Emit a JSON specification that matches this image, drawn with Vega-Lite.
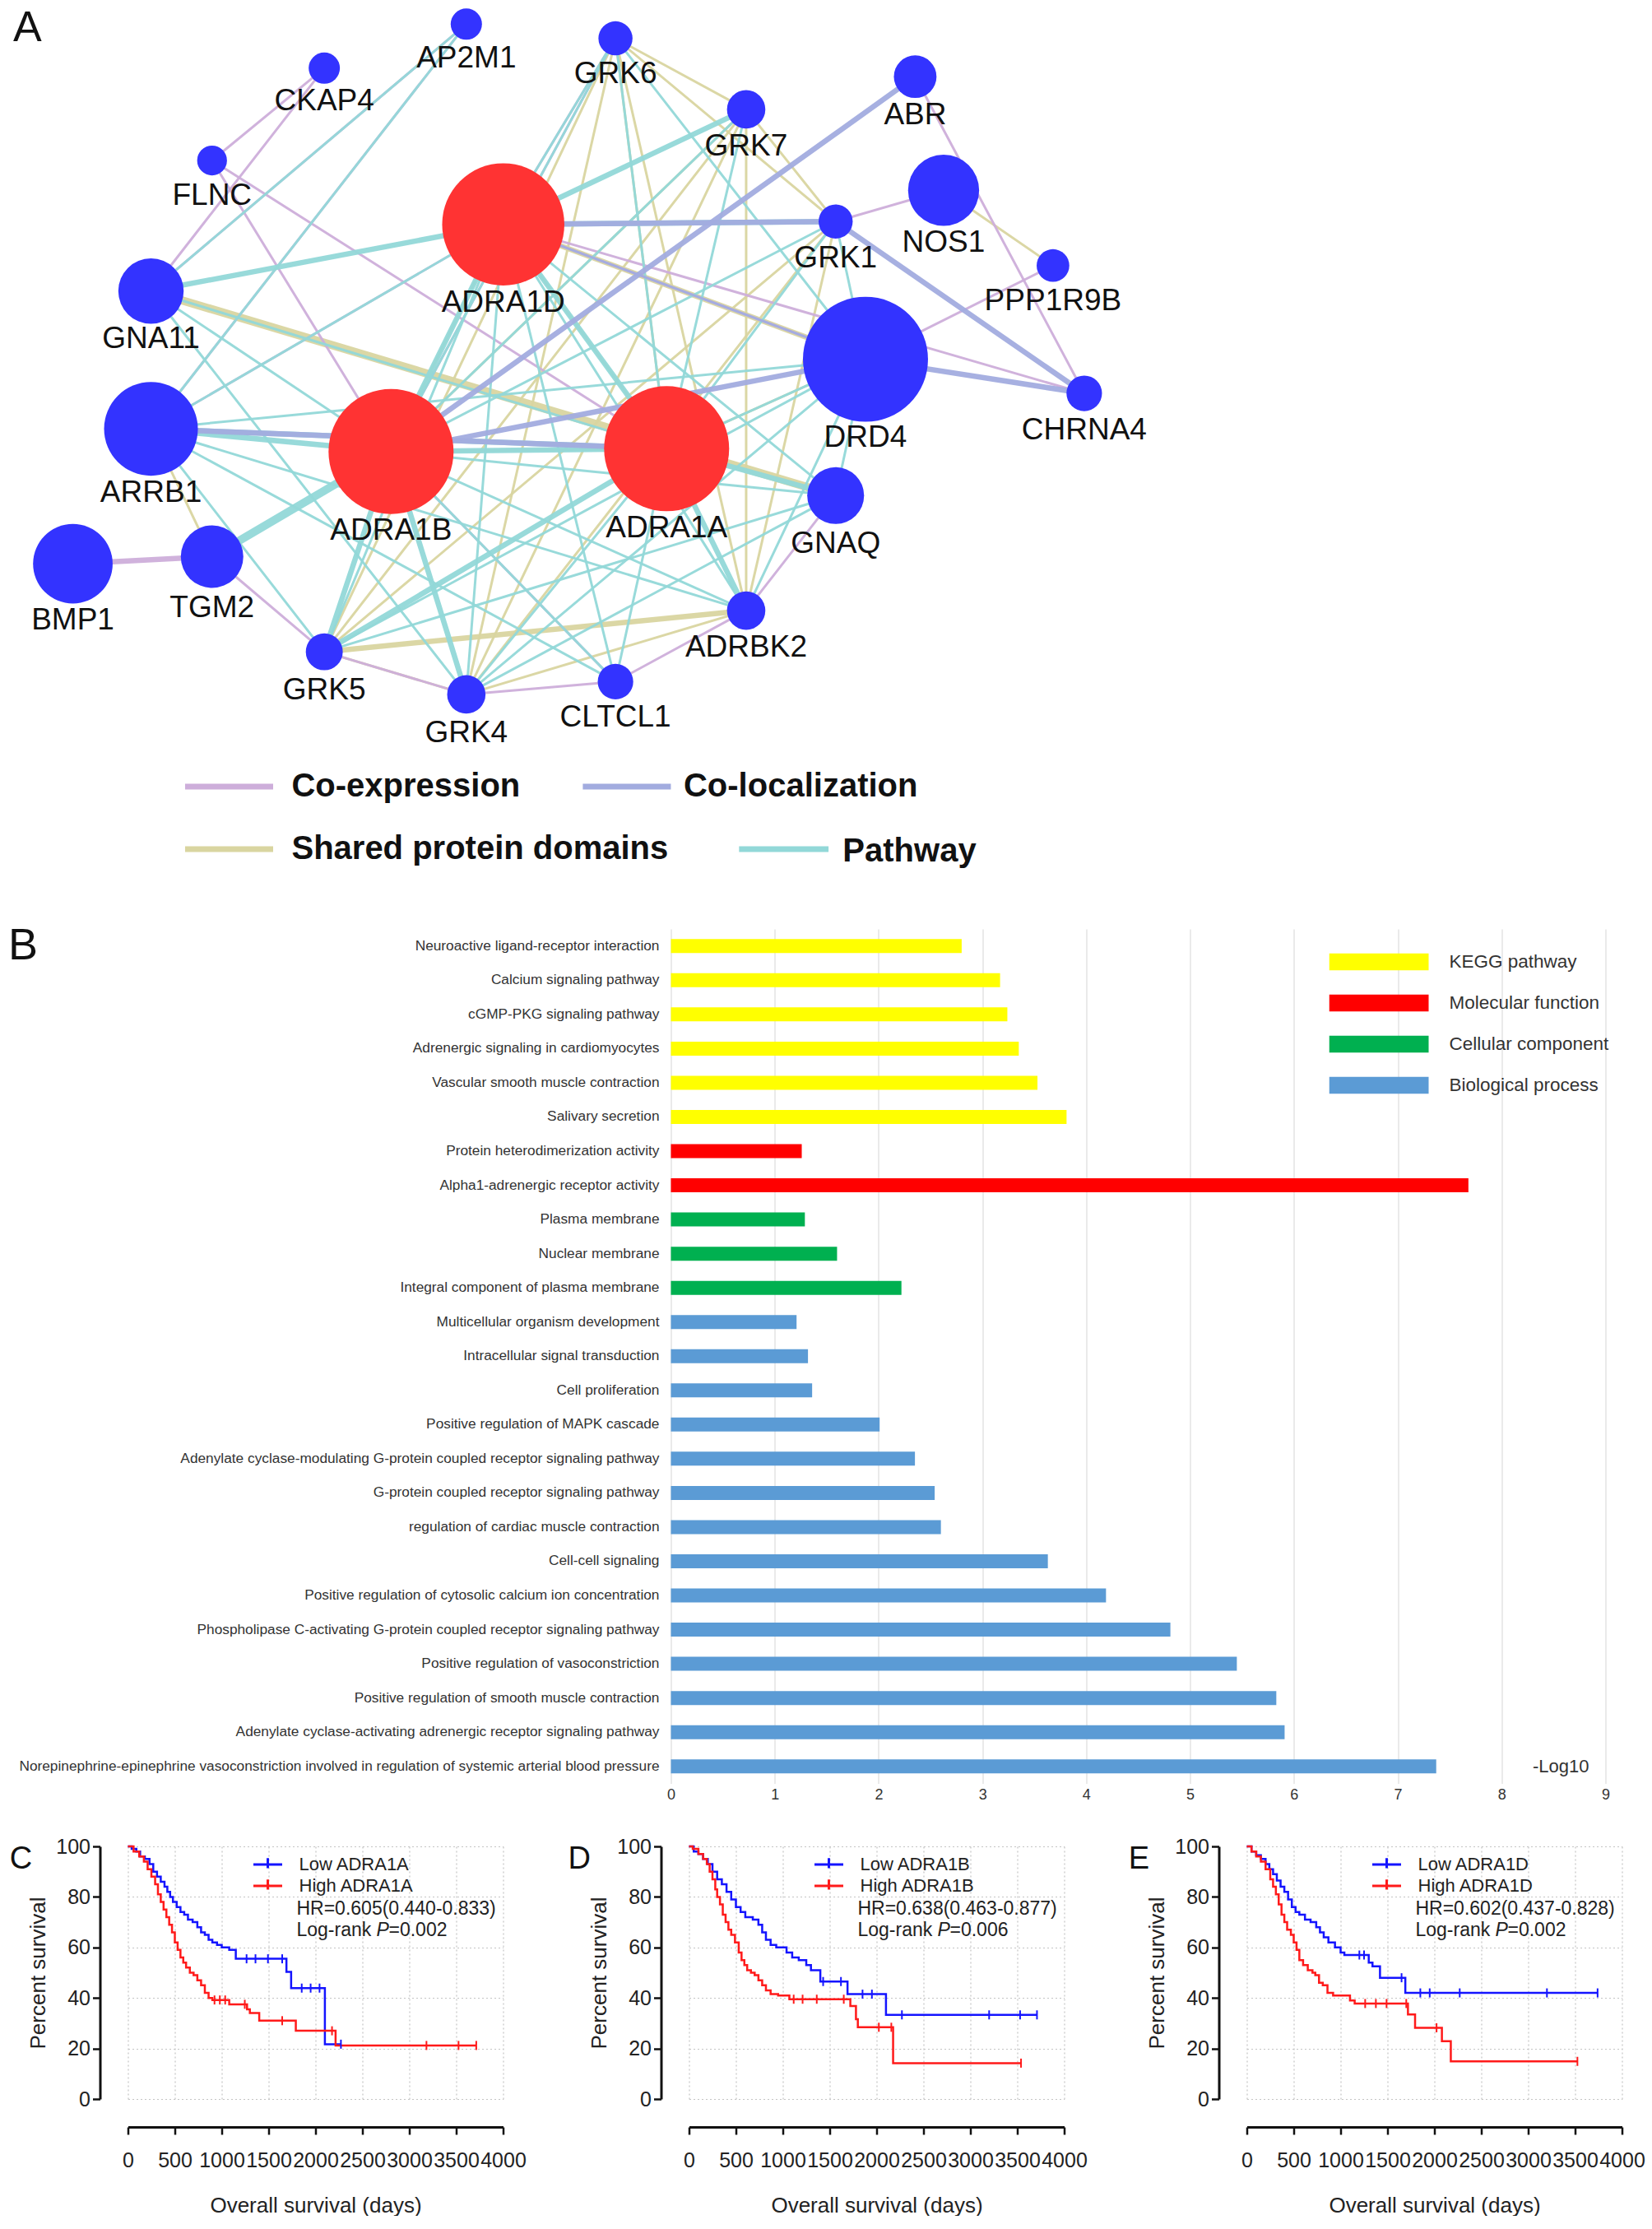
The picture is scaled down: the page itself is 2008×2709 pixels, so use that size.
{
"$schema":"https://vega.github.io/schema/vega-lite/v6.json",
"padding":{"left":9.5,"top":0,"right":0,"bottom":0},
"background":"white",
"config":{"view":{"stroke":null},"font":"Liberation Sans","axis":{"labelFont":"Liberation Sans","titleFont":"Liberation Sans"},"legend":{"labelFont":"Liberation Sans"},"text":{"font":"Liberation Sans"}},
"datasets":{
"nodes":[
{"id":"ADRA1A","x":469,"y":316,"d":88,"ly":372,"grp":"query"},
{"id":"ADRA1B","x":275,"y":318,"d":88,"ly":374,"grp":"query"},
{"id":"ADRA1D","x":354,"y":158,"d":86,"ly":213,"grp":"query"},
{"id":"DRD4","x":609,"y":253,"d":88,"ly":308,"grp":"related"},
{"id":"ARRB1","x":106,"y":302,"d":66,"ly":347,"grp":"related"},
{"id":"BMP1","x":51,"y":397,"d":56,"ly":437,"grp":"related"},
{"id":"GNA11","x":106,"y":205,"d":46,"ly":239,"grp":"related"},
{"id":"NOS1","x":664,"y":134,"d":50,"ly":171,"grp":"related"},
{"id":"TGM2","x":149,"y":392,"d":44,"ly":428,"grp":"related"},
{"id":"GNAQ","x":588,"y":349,"d":40,"ly":383,"grp":"related"},
{"id":"AP2M1","x":328,"y":17,"d":22,"ly":41,"grp":"related"},
{"id":"CKAP4","x":228,"y":48,"d":22,"ly":71,"grp":"related"},
{"id":"GRK6","x":433,"y":27,"d":24,"ly":52,"grp":"related"},
{"id":"FLNC","x":149,"y":113,"d":21,"ly":138,"grp":"related"},
{"id":"GRK7","x":525,"y":77,"d":27,"ly":103,"grp":"related"},
{"id":"ABR","x":644,"y":54,"d":30,"ly":81,"grp":"related"},
{"id":"GRK1","x":588,"y":156,"d":24,"ly":182,"grp":"related"},
{"id":"PPP1R9B","x":741,"y":187,"d":23,"ly":212,"grp":"related"},
{"id":"CHRNA4","x":763,"y":277,"d":25,"ly":303,"grp":"related"},
{"id":"ADRBK2","x":525,"y":430,"d":27,"ly":456,"grp":"related"},
{"id":"GRK5","x":228,"y":459,"d":26,"ly":486,"grp":"related"},
{"id":"CLTCL1","x":433,"y":480,"d":25,"ly":505,"grp":"related"},
{"id":"GRK4","x":328,"y":489,"d":27,"ly":516,"grp":"related"}
],
"edges":[
{"s":"GRK6","t":"GRK7","type":"Shared protein domains","w":1},
{"s":"GRK6","t":"GRK1","type":"Shared protein domains","w":1},
{"s":"GRK6","t":"GRK5","type":"Shared protein domains","w":1},
{"s":"GRK6","t":"GRK4","type":"Shared protein domains","w":1},
{"s":"GRK6","t":"ADRBK2","type":"Shared protein domains","w":1},
{"s":"GRK7","t":"GRK1","type":"Shared protein domains","w":1},
{"s":"GRK7","t":"GRK5","type":"Shared protein domains","w":1},
{"s":"GRK7","t":"GRK4","type":"Shared protein domains","w":1},
{"s":"GRK7","t":"ADRBK2","type":"Shared protein domains","w":1},
{"s":"GRK1","t":"GRK5","type":"Shared protein domains","w":1},
{"s":"GRK1","t":"GRK4","type":"Shared protein domains","w":1},
{"s":"GRK1","t":"ADRBK2","type":"Shared protein domains","w":1},
{"s":"GRK5","t":"GRK4","type":"Shared protein domains","w":1},
{"s":"GRK5","t":"ADRBK2","type":"Shared protein domains","w":2},
{"s":"GRK4","t":"ADRBK2","type":"Shared protein domains","w":1},
{"s":"GNA11","t":"GNAQ","type":"Shared protein domains","w":3},
{"s":"ADRA1A","t":"ADRA1B","type":"Shared protein domains","w":1},
{"s":"ADRA1A","t":"ADRA1D","type":"Shared protein domains","w":1},
{"s":"ADRA1B","t":"ADRA1D","type":"Shared protein domains","w":1},
{"s":"ADRA1D","t":"DRD4","type":"Shared protein domains","w":2},
{"s":"ADRA1A","t":"DRD4","type":"Shared protein domains","w":1},
{"s":"NOS1","t":"PPP1R9B","type":"Shared protein domains","w":1},
{"s":"ARRB1","t":"TGM2","type":"Shared protein domains","w":1},
{"s":"GRK6","t":"ADRA1A","type":"Shared protein domains","w":1},
{"s":"GRK7","t":"ADRA1B","type":"Shared protein domains","w":1},
{"s":"AP2M1","t":"GNA11","type":"Co-expression","w":1},
{"s":"AP2M1","t":"ARRB1","type":"Co-expression","w":1},
{"s":"CKAP4","t":"GNA11","type":"Co-expression","w":1},
{"s":"CKAP4","t":"FLNC","type":"Co-expression","w":1},
{"s":"FLNC","t":"ADRA1A","type":"Co-expression","w":1},
{"s":"FLNC","t":"ADRA1B","type":"Co-expression","w":1},
{"s":"ABR","t":"CHRNA4","type":"Co-expression","w":1},
{"s":"NOS1","t":"GRK1","type":"Co-expression","w":1},
{"s":"PPP1R9B","t":"DRD4","type":"Co-expression","w":1},
{"s":"ADRA1D","t":"CHRNA4","type":"Co-expression","w":1},
{"s":"ADRA1D","t":"DRD4","type":"Co-expression","w":1},
{"s":"BMP1","t":"TGM2","type":"Co-expression","w":2},
{"s":"TGM2","t":"GRK5","type":"Co-expression","w":1},
{"s":"GRK5","t":"GRK4","type":"Co-expression","w":1},
{"s":"GRK4","t":"CLTCL1","type":"Co-expression","w":1},
{"s":"CLTCL1","t":"ADRBK2","type":"Co-expression","w":1},
{"s":"ADRBK2","t":"GNAQ","type":"Co-expression","w":1},
{"s":"GRK6","t":"ADRA1D","type":"Co-expression","w":1},
{"s":"ADRA1B","t":"CLTCL1","type":"Co-expression","w":1},
{"s":"GRK6","t":"ADRA1B","type":"Co-expression","w":1},
{"s":"ARRB1","t":"ADRA1D","type":"Co-expression","w":1},
{"s":"ADRA1A","t":"ADRA1B","type":"Pathway","w":2},
{"s":"ADRA1A","t":"ADRA1D","type":"Pathway","w":2},
{"s":"ADRA1B","t":"ADRA1D","type":"Pathway","w":2},
{"s":"ADRA1D","t":"GNA11","type":"Pathway","w":2},
{"s":"ADRA1D","t":"GRK7","type":"Pathway","w":2},
{"s":"ADRA1D","t":"GRK1","type":"Pathway","w":2},
{"s":"ADRA1D","t":"ARRB1","type":"Pathway","w":1},
{"s":"ADRA1D","t":"GRK5","type":"Pathway","w":1},
{"s":"ADRA1D","t":"GRK4","type":"Pathway","w":1},
{"s":"ADRA1D","t":"CLTCL1","type":"Pathway","w":1},
{"s":"ADRA1D","t":"ADRBK2","type":"Pathway","w":1},
{"s":"ADRA1D","t":"GNAQ","type":"Pathway","w":1},
{"s":"ADRA1D","t":"GRK6","type":"Pathway","w":1},
{"s":"ADRA1B","t":"ARRB1","type":"Pathway","w":2},
{"s":"ADRA1B","t":"TGM2","type":"Pathway","w":3},
{"s":"ADRA1B","t":"GRK5","type":"Pathway","w":2},
{"s":"ADRA1B","t":"GRK4","type":"Pathway","w":2},
{"s":"ADRA1B","t":"CLTCL1","type":"Pathway","w":1},
{"s":"ADRA1B","t":"ADRBK2","type":"Pathway","w":1},
{"s":"ADRA1B","t":"GRK6","type":"Pathway","w":1},
{"s":"ADRA1B","t":"GRK7","type":"Pathway","w":1},
{"s":"ADRA1B","t":"GRK1","type":"Pathway","w":1},
{"s":"ADRA1B","t":"GNAQ","type":"Pathway","w":1},
{"s":"ADRA1B","t":"GNA11","type":"Pathway","w":1},
{"s":"ADRA1A","t":"ARRB1","type":"Pathway","w":2},
{"s":"ADRA1A","t":"GRK5","type":"Pathway","w":2},
{"s":"ADRA1A","t":"GRK4","type":"Pathway","w":1},
{"s":"ADRA1A","t":"CLTCL1","type":"Pathway","w":1},
{"s":"ADRA1A","t":"ADRBK2","type":"Pathway","w":2},
{"s":"ADRA1A","t":"GRK6","type":"Pathway","w":1},
{"s":"ADRA1A","t":"GRK7","type":"Pathway","w":1},
{"s":"ADRA1A","t":"GRK1","type":"Pathway","w":1},
{"s":"ADRA1A","t":"GNAQ","type":"Pathway","w":2},
{"s":"ADRA1A","t":"GNA11","type":"Pathway","w":1},
{"s":"ADRA1A","t":"DRD4","type":"Pathway","w":1},
{"s":"ARRB1","t":"AP2M1","type":"Pathway","w":1},
{"s":"GNA11","t":"AP2M1","type":"Pathway","w":1},
{"s":"ARRB1","t":"GRK5","type":"Pathway","w":1},
{"s":"ARRB1","t":"ADRBK2","type":"Pathway","w":1},
{"s":"ARRB1","t":"DRD4","type":"Pathway","w":1},
{"s":"ARRB1","t":"CLTCL1","type":"Pathway","w":1},
{"s":"DRD4","t":"GRK5","type":"Pathway","w":1},
{"s":"DRD4","t":"GRK4","type":"Pathway","w":1},
{"s":"DRD4","t":"ADRBK2","type":"Pathway","w":1},
{"s":"DRD4","t":"GRK6","type":"Pathway","w":1},
{"s":"DRD4","t":"GNAQ","type":"Pathway","w":1},
{"s":"GRK1","t":"DRD4","type":"Pathway","w":1},
{"s":"GNAQ","t":"GRK5","type":"Pathway","w":1},
{"s":"GNA11","t":"GRK4","type":"Pathway","w":1},
{"s":"GNAQ","t":"GRK4","type":"Pathway","w":1},
{"s":"ABR","t":"ADRA1B","type":"Co-localization","w":2},
{"s":"GRK1","t":"CHRNA4","type":"Co-localization","w":2},
{"s":"DRD4","t":"CHRNA4","type":"Co-localization","w":2},
{"s":"ARRB1","t":"ADRA1A","type":"Co-localization","w":2},
{"s":"ADRA1D","t":"GRK1","type":"Co-localization","w":2},
{"s":"ADRA1B","t":"DRD4","type":"Co-localization","w":2},
{"s":"ADRA1D","t":"DRD4","type":"Co-localization","w":1}
],
"go":[
{"term":"Neuroactive ligand-receptor interaction","cat":"KEGG pathway","val":2.80},
{"term":"Calcium signaling pathway","cat":"KEGG pathway","val":3.17},
{"term":"cGMP-PKG signaling pathway","cat":"KEGG pathway","val":3.24},
{"term":"Adrenergic signaling in cardiomyocytes","cat":"KEGG pathway","val":3.35},
{"term":"Vascular smooth muscle contraction","cat":"KEGG pathway","val":3.53},
{"term":"Salivary secretion","cat":"KEGG pathway","val":3.81},
{"term":"Protein heterodimerization activity","cat":"Molecular function","val":1.26},
{"term":"Alpha1-adrenergic receptor activity","cat":"Molecular function","val":7.68},
{"term":"Plasma membrane","cat":"Cellular component","val":1.29},
{"term":"Nuclear membrane","cat":"Cellular component","val":1.60},
{"term":"Integral component of plasma membrane","cat":"Cellular component","val":2.22},
{"term":"Multicellular organism development","cat":"Biological process","val":1.21},
{"term":"Intracellular signal transduction","cat":"Biological process","val":1.32},
{"term":"Cell proliferation","cat":"Biological process","val":1.36},
{"term":"Positive regulation of MAPK cascade","cat":"Biological process","val":2.01},
{"term":"Adenylate cyclase-modulating G-protein coupled receptor signaling pathway","cat":"Biological process","val":2.35},
{"term":"G-protein coupled receptor signaling pathway","cat":"Biological process","val":2.54},
{"term":"regulation of cardiac muscle contraction","cat":"Biological process","val":2.60},
{"term":"Cell-cell signaling","cat":"Biological process","val":3.63},
{"term":"Positive regulation of cytosolic calcium ion concentration","cat":"Biological process","val":4.19},
{"term":"Phospholipase C-activating G-protein coupled receptor signaling pathway","cat":"Biological process","val":4.81},
{"term":"Positive regulation of vasoconstriction","cat":"Biological process","val":5.45},
{"term":"Positive regulation of smooth muscle contraction","cat":"Biological process","val":5.83},
{"term":"Adenylate cyclase-activating adrenergic receptor signaling pathway","cat":"Biological process","val":5.91},
{"term":"Norepinephrine-epinephrine vasoconstriction involved in regulation of systemic arterial blood pressure","cat":"Biological process","val":7.37}
],
"km":[
{"p":"C","g":"Low ADRA1A","t":0,"s":100},{"p":"C","g":"Low ADRA1A","t":40,"s":99},{"p":"C","g":"Low ADRA1A","t":90,"s":98},{"p":"C","g":"Low ADRA1A","t":130,"s":96},{"p":"C","g":"Low ADRA1A","t":180,"s":95},{"p":"C","g":"Low ADRA1A","t":230,"s":93},{"p":"C","g":"Low ADRA1A","t":270,"s":90},{"p":"C","g":"Low ADRA1A","t":310,"s":88},{"p":"C","g":"Low ADRA1A","t":350,"s":86},{"p":"C","g":"Low ADRA1A","t":390,"s":84},{"p":"C","g":"Low ADRA1A","t":420,"s":82},{"p":"C","g":"Low ADRA1A","t":450,"s":80},{"p":"C","g":"Low ADRA1A","t":480,"s":78},{"p":"C","g":"Low ADRA1A","t":520,"s":76},{"p":"C","g":"Low ADRA1A","t":560,"s":74},{"p":"C","g":"Low ADRA1A","t":600,"s":73},{"p":"C","g":"Low ADRA1A","t":640,"s":71},{"p":"C","g":"Low ADRA1A","t":690,"s":70},{"p":"C","g":"Low ADRA1A","t":740,"s":68},{"p":"C","g":"Low ADRA1A","t":780,"s":66},{"p":"C","g":"Low ADRA1A","t":820,"s":65},{"p":"C","g":"Low ADRA1A","t":860,"s":63},{"p":"C","g":"Low ADRA1A","t":900,"s":62},{"p":"C","g":"Low ADRA1A","t":950,"s":61},{"p":"C","g":"Low ADRA1A","t":1000,"s":60},{"p":"C","g":"Low ADRA1A","t":1080,"s":59},{"p":"C","g":"Low ADRA1A","t":1150,"s":55.5},{"p":"C","g":"Low ADRA1A","t":1690,"s":50.3},{"p":"C","g":"Low ADRA1A","t":1740,"s":43.9},{"p":"C","g":"Low ADRA1A","t":2100,"s":21.7},{"p":"C","g":"Low ADRA1A","t":2271,"s":21.7},
{"p":"C","g":"High ADRA1A","t":0,"s":100},{"p":"C","g":"High ADRA1A","t":60,"s":98},{"p":"C","g":"High ADRA1A","t":120,"s":96},{"p":"C","g":"High ADRA1A","t":170,"s":94},{"p":"C","g":"High ADRA1A","t":210,"s":91},{"p":"C","g":"High ADRA1A","t":250,"s":88},{"p":"C","g":"High ADRA1A","t":290,"s":85},{"p":"C","g":"High ADRA1A","t":320,"s":81},{"p":"C","g":"High ADRA1A","t":350,"s":78},{"p":"C","g":"High ADRA1A","t":380,"s":75},{"p":"C","g":"High ADRA1A","t":410,"s":72},{"p":"C","g":"High ADRA1A","t":440,"s":69},{"p":"C","g":"High ADRA1A","t":470,"s":66},{"p":"C","g":"High ADRA1A","t":500,"s":62},{"p":"C","g":"High ADRA1A","t":530,"s":59},{"p":"C","g":"High ADRA1A","t":560,"s":56},{"p":"C","g":"High ADRA1A","t":590,"s":54},{"p":"C","g":"High ADRA1A","t":620,"s":52},{"p":"C","g":"High ADRA1A","t":660,"s":50},{"p":"C","g":"High ADRA1A","t":700,"s":49},{"p":"C","g":"High ADRA1A","t":740,"s":47},{"p":"C","g":"High ADRA1A","t":780,"s":45},{"p":"C","g":"High ADRA1A","t":820,"s":42},{"p":"C","g":"High ADRA1A","t":860,"s":40},{"p":"C","g":"High ADRA1A","t":900,"s":39.2},{"p":"C","g":"High ADRA1A","t":1080,"s":37.5},{"p":"C","g":"High ADRA1A","t":1270,"s":35.5},{"p":"C","g":"High ADRA1A","t":1300,"s":34},{"p":"C","g":"High ADRA1A","t":1400,"s":31},{"p":"C","g":"High ADRA1A","t":1790,"s":27},{"p":"C","g":"High ADRA1A","t":2214,"s":21.2},{"p":"C","g":"High ADRA1A","t":3714,"s":21.2},
{"p":"D","g":"Low ADRA1B","t":0,"s":100},{"p":"D","g":"Low ADRA1B","t":50,"s":98},{"p":"D","g":"Low ADRA1B","t":100,"s":97},{"p":"D","g":"Low ADRA1B","t":150,"s":95},{"p":"D","g":"Low ADRA1B","t":200,"s":93},{"p":"D","g":"Low ADRA1B","t":250,"s":90},{"p":"D","g":"Low ADRA1B","t":300,"s":87},{"p":"D","g":"Low ADRA1B","t":350,"s":85},{"p":"D","g":"Low ADRA1B","t":400,"s":82},{"p":"D","g":"Low ADRA1B","t":450,"s":79},{"p":"D","g":"Low ADRA1B","t":500,"s":76},{"p":"D","g":"Low ADRA1B","t":550,"s":74},{"p":"D","g":"Low ADRA1B","t":600,"s":72},{"p":"D","g":"Low ADRA1B","t":680,"s":71},{"p":"D","g":"Low ADRA1B","t":740,"s":69},{"p":"D","g":"Low ADRA1B","t":780,"s":66},{"p":"D","g":"Low ADRA1B","t":820,"s":63},{"p":"D","g":"Low ADRA1B","t":870,"s":61},{"p":"D","g":"Low ADRA1B","t":930,"s":60},{"p":"D","g":"Low ADRA1B","t":1040,"s":58},{"p":"D","g":"Low ADRA1B","t":1100,"s":56},{"p":"D","g":"Low ADRA1B","t":1170,"s":55},{"p":"D","g":"Low ADRA1B","t":1250,"s":53},{"p":"D","g":"Low ADRA1B","t":1300,"s":51},{"p":"D","g":"Low ADRA1B","t":1400,"s":46.5},{"p":"D","g":"Low ADRA1B","t":1690,"s":41.5},{"p":"D","g":"Low ADRA1B","t":2100,"s":33.3},{"p":"D","g":"Low ADRA1B","t":3710,"s":33.3},
{"p":"D","g":"High ADRA1B","t":0,"s":100},{"p":"D","g":"High ADRA1B","t":40,"s":99},{"p":"D","g":"High ADRA1B","t":100,"s":97},{"p":"D","g":"High ADRA1B","t":150,"s":95},{"p":"D","g":"High ADRA1B","t":190,"s":93},{"p":"D","g":"High ADRA1B","t":220,"s":90},{"p":"D","g":"High ADRA1B","t":250,"s":87},{"p":"D","g":"High ADRA1B","t":280,"s":83},{"p":"D","g":"High ADRA1B","t":300,"s":80},{"p":"D","g":"High ADRA1B","t":330,"s":77},{"p":"D","g":"High ADRA1B","t":360,"s":73},{"p":"D","g":"High ADRA1B","t":390,"s":70},{"p":"D","g":"High ADRA1B","t":420,"s":67},{"p":"D","g":"High ADRA1B","t":450,"s":65},{"p":"D","g":"High ADRA1B","t":490,"s":62},{"p":"D","g":"High ADRA1B","t":530,"s":58},{"p":"D","g":"High ADRA1B","t":560,"s":55},{"p":"D","g":"High ADRA1B","t":590,"s":53},{"p":"D","g":"High ADRA1B","t":620,"s":51},{"p":"D","g":"High ADRA1B","t":660,"s":50},{"p":"D","g":"High ADRA1B","t":700,"s":49},{"p":"D","g":"High ADRA1B","t":740,"s":47},{"p":"D","g":"High ADRA1B","t":780,"s":45},{"p":"D","g":"High ADRA1B","t":820,"s":43},{"p":"D","g":"High ADRA1B","t":870,"s":41.5},{"p":"D","g":"High ADRA1B","t":950,"s":41},{"p":"D","g":"High ADRA1B","t":1070,"s":39.5},{"p":"D","g":"High ADRA1B","t":1720,"s":36.8},{"p":"D","g":"High ADRA1B","t":1780,"s":31.6},{"p":"D","g":"High ADRA1B","t":1800,"s":28.4},{"p":"D","g":"High ADRA1B","t":2176,"s":14.2},{"p":"D","g":"High ADRA1B","t":3540,"s":14.2},
{"p":"E","g":"Low ADRA1D","t":0,"s":100},{"p":"E","g":"Low ADRA1D","t":50,"s":98},{"p":"E","g":"Low ADRA1D","t":100,"s":96.5},{"p":"E","g":"Low ADRA1D","t":150,"s":95},{"p":"E","g":"Low ADRA1D","t":200,"s":93},{"p":"E","g":"Low ADRA1D","t":240,"s":91},{"p":"E","g":"Low ADRA1D","t":280,"s":89},{"p":"E","g":"Low ADRA1D","t":320,"s":86.5},{"p":"E","g":"Low ADRA1D","t":360,"s":84},{"p":"E","g":"Low ADRA1D","t":400,"s":82},{"p":"E","g":"Low ADRA1D","t":440,"s":79},{"p":"E","g":"Low ADRA1D","t":480,"s":76},{"p":"E","g":"Low ADRA1D","t":520,"s":74},{"p":"E","g":"Low ADRA1D","t":560,"s":73},{"p":"E","g":"Low ADRA1D","t":620,"s":71},{"p":"E","g":"Low ADRA1D","t":680,"s":70},{"p":"E","g":"Low ADRA1D","t":740,"s":68},{"p":"E","g":"Low ADRA1D","t":780,"s":66},{"p":"E","g":"Low ADRA1D","t":820,"s":64},{"p":"E","g":"Low ADRA1D","t":870,"s":62},{"p":"E","g":"Low ADRA1D","t":940,"s":60},{"p":"E","g":"Low ADRA1D","t":1000,"s":58},{"p":"E","g":"Low ADRA1D","t":1040,"s":57},{"p":"E","g":"Low ADRA1D","t":1300,"s":54},{"p":"E","g":"Low ADRA1D","t":1340,"s":52.5},{"p":"E","g":"Low ADRA1D","t":1420,"s":48},{"p":"E","g":"Low ADRA1D","t":1690,"s":42},{"p":"E","g":"Low ADRA1D","t":3740,"s":42},
{"p":"E","g":"High ADRA1D","t":0,"s":100},{"p":"E","g":"High ADRA1D","t":50,"s":98},{"p":"E","g":"High ADRA1D","t":100,"s":96},{"p":"E","g":"High ADRA1D","t":150,"s":94},{"p":"E","g":"High ADRA1D","t":200,"s":91},{"p":"E","g":"High ADRA1D","t":250,"s":87},{"p":"E","g":"High ADRA1D","t":280,"s":84},{"p":"E","g":"High ADRA1D","t":310,"s":81},{"p":"E","g":"High ADRA1D","t":340,"s":77},{"p":"E","g":"High ADRA1D","t":370,"s":73},{"p":"E","g":"High ADRA1D","t":400,"s":70},{"p":"E","g":"High ADRA1D","t":430,"s":67},{"p":"E","g":"High ADRA1D","t":470,"s":65},{"p":"E","g":"High ADRA1D","t":500,"s":62},{"p":"E","g":"High ADRA1D","t":530,"s":59},{"p":"E","g":"High ADRA1D","t":560,"s":55},{"p":"E","g":"High ADRA1D","t":600,"s":53},{"p":"E","g":"High ADRA1D","t":650,"s":51},{"p":"E","g":"High ADRA1D","t":700,"s":50},{"p":"E","g":"High ADRA1D","t":730,"s":49},{"p":"E","g":"High ADRA1D","t":770,"s":46},{"p":"E","g":"High ADRA1D","t":810,"s":45},{"p":"E","g":"High ADRA1D","t":860,"s":42},{"p":"E","g":"High ADRA1D","t":920,"s":41},{"p":"E","g":"High ADRA1D","t":1100,"s":39},{"p":"E","g":"High ADRA1D","t":1150,"s":37.8},{"p":"E","g":"High ADRA1D","t":1718,"s":33.5},{"p":"E","g":"High ADRA1D","t":1794,"s":28.2},{"p":"E","g":"High ADRA1D","t":2080,"s":22.9},{"p":"E","g":"High ADRA1D","t":2175,"s":14.9},{"p":"E","g":"High ADRA1D","t":3525,"s":14.9}
],
"cens":[
{"p":"C","g":"Low ADRA1A","t":1265,"s":55.5},{"p":"C","g":"Low ADRA1A","t":1360,"s":55.5},{"p":"C","g":"Low ADRA1A","t":1493,"s":55.5},{"p":"C","g":"Low ADRA1A","t":1645,"s":55.5},{"p":"C","g":"Low ADRA1A","t":1853,"s":43.9},{"p":"C","g":"Low ADRA1A","t":1948,"s":43.9},{"p":"C","g":"Low ADRA1A","t":2043,"s":43.9},{"p":"C","g":"Low ADRA1A","t":2271,"s":21.7},
{"p":"C","g":"High ADRA1A","t":923,"s":39.2},{"p":"C","g":"High ADRA1A","t":980,"s":39.2},{"p":"C","g":"High ADRA1A","t":1037,"s":39.2},{"p":"C","g":"High ADRA1A","t":1246,"s":37.5},{"p":"C","g":"High ADRA1A","t":1645,"s":31},{"p":"C","g":"High ADRA1A","t":2176,"s":27},{"p":"C","g":"High ADRA1A","t":3183,"s":21.2},{"p":"C","g":"High ADRA1A","t":3525,"s":21.2},{"p":"C","g":"High ADRA1A","t":3714,"s":21.2},
{"p":"D","g":"Low ADRA1B","t":1430,"s":46.5},{"p":"D","g":"Low ADRA1B","t":1620,"s":46.5},{"p":"D","g":"Low ADRA1B","t":1850,"s":41.5},{"p":"D","g":"Low ADRA1B","t":1950,"s":41.5},{"p":"D","g":"Low ADRA1B","t":2270,"s":33.3},{"p":"D","g":"Low ADRA1B","t":3200,"s":33.3},{"p":"D","g":"Low ADRA1B","t":3530,"s":33.3},{"p":"D","g":"Low ADRA1B","t":3710,"s":33.3},
{"p":"D","g":"High ADRA1B","t":1116,"s":39.5},{"p":"D","g":"High ADRA1B","t":1211,"s":39.5},{"p":"D","g":"High ADRA1B","t":1362,"s":39.5},{"p":"D","g":"High ADRA1B","t":1650,"s":39.5},{"p":"D","g":"High ADRA1B","t":2024,"s":28.4},{"p":"D","g":"High ADRA1B","t":2157,"s":28.4},{"p":"D","g":"High ADRA1B","t":3540,"s":14.2},
{"p":"E","g":"Low ADRA1D","t":1200,"s":57},{"p":"E","g":"Low ADRA1D","t":1250,"s":57},{"p":"E","g":"Low ADRA1D","t":1650,"s":48},{"p":"E","g":"Low ADRA1D","t":1850,"s":42},{"p":"E","g":"Low ADRA1D","t":1950,"s":42},{"p":"E","g":"Low ADRA1D","t":2270,"s":42},{"p":"E","g":"Low ADRA1D","t":3200,"s":42},{"p":"E","g":"Low ADRA1D","t":3740,"s":42},
{"p":"E","g":"High ADRA1D","t":1262,"s":37.8},{"p":"E","g":"High ADRA1D","t":1376,"s":37.8},{"p":"E","g":"High ADRA1D","t":1490,"s":37.8},{"p":"E","g":"High ADRA1D","t":1700,"s":37.8},{"p":"E","g":"High ADRA1D","t":2023,"s":28.2},{"p":"E","g":"High ADRA1D","t":3525,"s":14.9}
]
},
"spacing":41,
"resolve":{"scale":{"color":"independent"},"legend":{"color":"independent"}},
"vconcat":[
{"spacing":52,"resolve":{"scale":{"color":"independent"},"legend":{"color":"independent"}},
"vconcat":[
{"width":1853,"height":1070,
"layer":[
{"data":{"name":"edges"},
"transform":[
{"lookup":"s","from":{"data":{"name":"nodes"},"key":"id","fields":["x","y"]},"as":["sx","sy"]},
{"lookup":"t","from":{"data":{"name":"nodes"},"key":"id","fields":["x","y"]},"as":["tx","ty"]}
],
"mark":{"type":"rule","opacity":0.95,"strokeCap":"round"},
"encoding":{
"x":{"field":"sx","type":"quantitative","scale":{"domain":[89.77,1163],"nice":false,"zero":false},"axis":null},
"y":{"field":"sy","type":"quantitative","scale":{"domain":[0,620],"nice":false,"zero":false,"reverse":true},"axis":null},
"x2":{"field":"tx"},
"y2":{"field":"ty"},
"stroke":{"field":"type","type":"nominal","scale":{"domain":["Co-expression","Co-localization","Shared protein domains","Pathway"],"range":["#cdaeda","#a2acdf","#d9d5a0","#92d8d8"]},"legend":null},
"strokeWidth":{"field":"w","type":"quantitative","scale":{"domain":[1,3],"range":[3,10]},"legend":null}
}},
{"data":{"name":"nodes"},
"mark":{"type":"circle","opacity":1},
"encoding":{
"x":{"field":"x","type":"quantitative"},
"y":{"field":"y","type":"quantitative"},
"size":{"field":"d","type":"quantitative","scale":{"type":"pow","exponent":2,"domain":[0,100],"range":[0,29826]},"legend":null},
"fill":{"field":"grp","type":"nominal","scale":{"domain":["query","related"],"range":["#ff3333","#3333ff"]},"legend":null}
}},
{"data":{"name":"nodes"},
"mark":{"type":"text","fontSize":37,"align":"center","baseline":"middle","color":"#111"},
"encoding":{
"x":{"field":"x","type":"quantitative"},
"y":{"field":"ly","type":"quantitative"},
"text":{"field":"id"}
}},
{"data":{"values":[{}]},"mark":{"type":"rule","strokeWidth":7},"encoding":{"x":{"datum":130,"type":"quantitative"},"x2":{"datum":192},"y":{"datum":554,"type":"quantitative"},"stroke":{"datum":"Co-expression","type":"nominal","legend":null}}},
{"data":{"values":[{}]},"mark":{"type":"rule","strokeWidth":7},"encoding":{"x":{"datum":410,"type":"quantitative"},"x2":{"datum":472},"y":{"datum":554,"type":"quantitative"},"stroke":{"datum":"Co-localization","type":"nominal","legend":null}}},
{"data":{"values":[{}]},"mark":{"type":"rule","strokeWidth":7},"encoding":{"x":{"datum":130,"type":"quantitative"},"x2":{"datum":192},"y":{"datum":598,"type":"quantitative"},"stroke":{"datum":"Shared protein domains","type":"nominal","legend":null}}},
{"data":{"values":[{}]},"mark":{"type":"rule","strokeWidth":7},"encoding":{"x":{"datum":520,"type":"quantitative"},"x2":{"datum":583},"y":{"datum":598,"type":"quantitative"},"stroke":{"datum":"Pathway","type":"nominal","legend":null}}},
{"data":{"values":[{}]},"mark":{"type":"text","text":"Co-expression","fontSize":40,"fontWeight":"bold","align":"left","baseline":"middle","color":"#111"},"encoding":{"x":{"datum":205,"type":"quantitative"},"y":{"datum":554,"type":"quantitative"}}},
{"data":{"values":[{}]},"mark":{"type":"text","text":"Co-localization","fontSize":40,"fontWeight":"bold","align":"left","baseline":"middle","color":"#111"},"encoding":{"x":{"datum":481,"type":"quantitative"},"y":{"datum":554,"type":"quantitative"}}},
{"data":{"values":[{}]},"mark":{"type":"text","text":"Shared protein domains","fontSize":40,"fontWeight":"bold","align":"left","baseline":"middle","color":"#111"},"encoding":{"x":{"datum":205,"type":"quantitative"},"y":{"datum":598,"type":"quantitative"}}},
{"data":{"values":[{}]},"mark":{"type":"text","text":"Pathway","fontSize":40,"fontWeight":"bold","align":"left","baseline":"middle","color":"#111"},"encoding":{"x":{"datum":593,"type":"quantitative"},"y":{"datum":600,"type":"quantitative"}}},
{"data":{"values":[{}]},
"mark":{"type":"text","text":"A","fontSize":52,"align":"center","baseline":"middle","color":"#111"},
"encoding":{"x":{"datum":19,"type":"quantitative"},"y":{"datum":19.5,"type":"quantitative"}}}
]},
{"width":1853,"height":1038.5,
"data":{"name":"go"},
"layer":[
{"mark":{"type":"bar","height":17},
"encoding":{
"x":{"field":"val","type":"quantitative","scale":{"domain":[-5.229,9.452],"nice":false,"zero":false},
"axis":{"values":[0,1,2,3,4,5,6,7,8,9],"format":"d","title":null,"domain":false,"ticks":false,"grid":true,"gridColor":"#e3e3e3","gridWidth":1.5,"labelFontSize":18,"labelColor":"#333","labelPadding":5}},
"y":{"field":"term","type":"nominal","sort":null,"scale":{"paddingInner":0,"paddingOuter":0},"axis":null},
"color":{"field":"cat","type":"nominal","scale":{"domain":["KEGG pathway","Molecular function","Cellular component","Biological process"],"range":["#ffff00","#ff0000","#00b050","#5b9bd5"]},
"legend":{"title":null,"orient":"none","legendX":1460,"legendY":27,"clipHeight":26,"symbolType":"M-1,-0.17H1V0.17H-1Z","symbolSize":14641,"symbolStrokeWidth":0,"symbolOpacity":1,"labelFontSize":22.5,"labelOffset":25,"rowPadding":24,"labelColor":"#333","labelLimit":0}}
}},
{"mark":{"type":"text","align":"right","baseline":"middle","dx":-14,"fontSize":17.3,"color":"#333"},
"encoding":{
"x":{"datum":0,"type":"quantitative"},
"y":{"field":"term","type":"nominal","sort":null,"axis":null},
"text":{"field":"term"}
}},
{"data":{"values":[{}]},
"mark":{"type":"text","text":"-Log10","align":"center","baseline":"middle","fontSize":22,"color":"#333"},
"encoding":{"x":{"datum":8.57,"type":"quantitative"},"y":{"datum":"Norepinephrine-epinephrine vasoconstriction involved in regulation of systemic arterial blood pressure","type":"nominal"}}},
{"data":{"values":[{}]},
"mark":{"type":"text","text":"B","align":"center","baseline":"middle","fontSize":54,"color":"#111"},
"encoding":{"x":{"datum":-6.24,"type":"quantitative"},"y":{"datum":"Neuroactive ligand-receptor interaction","type":"nominal"}}}
]}
]},
{"spacing":50,"resolve":{"scale":{"color":"independent"},"legend":{"color":"independent"}},
"hconcat":[
{"width":456,"height":307,
"layer":[
{"data":{"name":"km"},"transform":[{"filter":"datum.p == 'C'"}],
"mark":{"type":"line","interpolate":"step-after","strokeWidth":2.5},
"encoding":{
"x":{"field":"t","type":"quantitative","scale":{"domain":[0,4000],"nice":false,"zero":false},
"axis":{"title":"Overall survival (days)","values":[0,250,500,750,1000,1250,1500,1750,2000,2250,2500,2750,3000,3250,3500,3750,4000],"format":"d","labelExpr":"datum.value % 500 == 0 ? datum.label : ''","offset":34,"domainColor":"#111","domainWidth":3,"tickColor":"#111","tickWidth":2.5,"tickSize":{"condition":{"test":"datum.value % 500 != 0","value":5},"value":9},"grid":true,"gridColor":"#c4c4c4","gridDash":[2,3],"gridWidth":1.2,"gridOpacity":{"condition":{"test":"datum.value % 500 != 0","value":0},"value":1},"labelFontSize":25,"labelColor":"#222","labelPadding":19,"labelOverlap":false,"labelFlush":false,"titleFontSize":26,"titleFontWeight":"normal","titleColor":"#222","titlePadding":29}},
"y":{"field":"s","type":"quantitative","scale":{"domain":[0,100],"nice":false,"zero":false},
"axis":{"title":"Percent survival","values":[0,10,20,30,40,50,60,70,80,90,100],"format":"d","labelExpr":"datum.value % 20 == 0 ? datum.label : ''","offset":34,"domainColor":"#111","domainWidth":3,"tickColor":"#111","tickWidth":2.5,"tickSize":{"condition":{"test":"datum.value % 20 != 0","value":5},"value":9},"grid":true,"gridColor":"#c4c4c4","gridDash":[2,3],"gridWidth":1.2,"gridOpacity":{"condition":{"test":"datum.value % 20 != 0","value":0},"value":1},"labelFontSize":25,"labelColor":"#222","labelPadding":3,"labelOverlap":false,"labelFlush":false,"titleFontSize":26,"titleFontWeight":"normal","titleColor":"#222","titlePadding":8}},
"color":{"field":"g","type":"nominal","scale":{"domain":["Low ADRA1A","High ADRA1A"],"range":["#1414ff","#ff1a1a"]},
"legend":{"title":null,"orient":"none","legendX":151,"legendY":11,"clipHeight":22,"symbolType":"M-1,0H1M0,-0.45V0.25","symbolSize":1225,"symbolStrokeWidth":3,"labelFontSize":22,"labelOffset":19,"rowPadding":4,"labelColor":"#222","labelLimit":0}}
}},
{"data":{"name":"cens"},"transform":[{"filter":"datum.p == 'C'"}],
"mark":{"type":"tick","orient":"vertical","size":11,"thickness":2,"opacity":1},
"encoding":{"x":{"field":"t","type":"quantitative"},"y":{"field":"s","type":"quantitative"},"color":{"field":"g","type":"nominal"}}},
{"data":{"values":[{}]},"mark":{"type":"text","text":"HR=0.605(0.440-0.833)","align":"left","baseline":"middle","fontSize":23,"color":"#222"},"encoding":{"x":{"datum":1798,"type":"quantitative"},"y":{"datum":75.1,"type":"quantitative"}}},
{"data":{"values":[{}]},"mark":{"type":"text","text":"Log-rank","align":"left","baseline":"middle","fontSize":23,"color":"#222"},"encoding":{"x":{"datum":1798,"type":"quantitative"},"y":{"datum":66.7,"type":"quantitative"}}},
{"data":{"values":[{}]},"mark":{"type":"text","text":"P","align":"left","baseline":"middle","fontSize":23,"fontStyle":"italic","dx":97,"color":"#222"},"encoding":{"x":{"datum":1798,"type":"quantitative"},"y":{"datum":66.7,"type":"quantitative"}}},
{"data":{"values":[{}]},"mark":{"type":"text","text":"=0.002","align":"left","baseline":"middle","fontSize":23,"dx":112,"color":"#222"},"encoding":{"x":{"datum":1798,"type":"quantitative"},"y":{"datum":66.7,"type":"quantitative"}}},
{"data":{"values":[{}]},"mark":{"type":"text","text":"C","align":"center","baseline":"middle","fontSize":38,"color":"#111"},"encoding":{"x":{"datum":-1140,"type":"quantitative"},"y":{"datum":94.8,"type":"quantitative"}}}
]},
{"width":456,"height":307,
"layer":[
{"data":{"name":"km"},"transform":[{"filter":"datum.p == 'D'"}],
"mark":{"type":"line","interpolate":"step-after","strokeWidth":2.5},
"encoding":{
"x":{"field":"t","type":"quantitative","scale":{"domain":[0,4000],"nice":false,"zero":false},
"axis":{"title":"Overall survival (days)","values":[0,250,500,750,1000,1250,1500,1750,2000,2250,2500,2750,3000,3250,3500,3750,4000],"format":"d","labelExpr":"datum.value % 500 == 0 ? datum.label : ''","offset":34,"domainColor":"#111","domainWidth":3,"tickColor":"#111","tickWidth":2.5,"tickSize":{"condition":{"test":"datum.value % 500 != 0","value":5},"value":9},"grid":true,"gridColor":"#c4c4c4","gridDash":[2,3],"gridWidth":1.2,"gridOpacity":{"condition":{"test":"datum.value % 500 != 0","value":0},"value":1},"labelFontSize":25,"labelColor":"#222","labelPadding":19,"labelOverlap":false,"labelFlush":false,"titleFontSize":26,"titleFontWeight":"normal","titleColor":"#222","titlePadding":29}},
"y":{"field":"s","type":"quantitative","scale":{"domain":[0,100],"nice":false,"zero":false},
"axis":{"title":"Percent survival","values":[0,10,20,30,40,50,60,70,80,90,100],"format":"d","labelExpr":"datum.value % 20 == 0 ? datum.label : ''","offset":34,"domainColor":"#111","domainWidth":3,"tickColor":"#111","tickWidth":2.5,"tickSize":{"condition":{"test":"datum.value % 20 != 0","value":5},"value":9},"grid":true,"gridColor":"#c4c4c4","gridDash":[2,3],"gridWidth":1.2,"gridOpacity":{"condition":{"test":"datum.value % 20 != 0","value":0},"value":1},"labelFontSize":25,"labelColor":"#222","labelPadding":3,"labelOverlap":false,"labelFlush":false,"titleFontSize":26,"titleFontWeight":"normal","titleColor":"#222","titlePadding":8}},
"color":{"field":"g","type":"nominal","scale":{"domain":["Low ADRA1B","High ADRA1B"],"range":["#1414ff","#ff1a1a"]},
"legend":{"title":null,"orient":"none","legendX":151,"legendY":11,"clipHeight":22,"symbolType":"M-1,0H1M0,-0.45V0.25","symbolSize":1225,"symbolStrokeWidth":3,"labelFontSize":22,"labelOffset":19,"rowPadding":4,"labelColor":"#222","labelLimit":0}}
}},
{"data":{"name":"cens"},"transform":[{"filter":"datum.p == 'D'"}],
"mark":{"type":"tick","orient":"vertical","size":11,"thickness":2,"opacity":1},
"encoding":{"x":{"field":"t","type":"quantitative"},"y":{"field":"s","type":"quantitative"},"color":{"field":"g","type":"nominal"}}},
{"data":{"values":[{}]},"mark":{"type":"text","text":"HR=0.638(0.463-0.877)","align":"left","baseline":"middle","fontSize":23,"color":"#222"},"encoding":{"x":{"datum":1798,"type":"quantitative"},"y":{"datum":75.1,"type":"quantitative"}}},
{"data":{"values":[{}]},"mark":{"type":"text","text":"Log-rank","align":"left","baseline":"middle","fontSize":23,"color":"#222"},"encoding":{"x":{"datum":1798,"type":"quantitative"},"y":{"datum":66.7,"type":"quantitative"}}},
{"data":{"values":[{}]},"mark":{"type":"text","text":"P","align":"left","baseline":"middle","fontSize":23,"fontStyle":"italic","dx":97,"color":"#222"},"encoding":{"x":{"datum":1798,"type":"quantitative"},"y":{"datum":66.7,"type":"quantitative"}}},
{"data":{"values":[{}]},"mark":{"type":"text","text":"=0.006","align":"left","baseline":"middle","fontSize":23,"dx":112,"color":"#222"},"encoding":{"x":{"datum":1798,"type":"quantitative"},"y":{"datum":66.7,"type":"quantitative"}}},
{"data":{"values":[{}]},"mark":{"type":"text","text":"D","align":"center","baseline":"middle","fontSize":38,"color":"#111"},"encoding":{"x":{"datum":-1170,"type":"quantitative"},"y":{"datum":94.8,"type":"quantitative"}}}
]},
{"width":456,"height":307,
"layer":[
{"data":{"name":"km"},"transform":[{"filter":"datum.p == 'E'"}],
"mark":{"type":"line","interpolate":"step-after","strokeWidth":2.5},
"encoding":{
"x":{"field":"t","type":"quantitative","scale":{"domain":[0,4000],"nice":false,"zero":false},
"axis":{"title":"Overall survival (days)","values":[0,250,500,750,1000,1250,1500,1750,2000,2250,2500,2750,3000,3250,3500,3750,4000],"format":"d","labelExpr":"datum.value % 500 == 0 ? datum.label : ''","offset":34,"domainColor":"#111","domainWidth":3,"tickColor":"#111","tickWidth":2.5,"tickSize":{"condition":{"test":"datum.value % 500 != 0","value":5},"value":9},"grid":true,"gridColor":"#c4c4c4","gridDash":[2,3],"gridWidth":1.2,"gridOpacity":{"condition":{"test":"datum.value % 500 != 0","value":0},"value":1},"labelFontSize":25,"labelColor":"#222","labelPadding":19,"labelOverlap":false,"labelFlush":false,"titleFontSize":26,"titleFontWeight":"normal","titleColor":"#222","titlePadding":29}},
"y":{"field":"s","type":"quantitative","scale":{"domain":[0,100],"nice":false,"zero":false},
"axis":{"title":"Percent survival","values":[0,10,20,30,40,50,60,70,80,90,100],"format":"d","labelExpr":"datum.value % 20 == 0 ? datum.label : ''","offset":34,"domainColor":"#111","domainWidth":3,"tickColor":"#111","tickWidth":2.5,"tickSize":{"condition":{"test":"datum.value % 20 != 0","value":5},"value":9},"grid":true,"gridColor":"#c4c4c4","gridDash":[2,3],"gridWidth":1.2,"gridOpacity":{"condition":{"test":"datum.value % 20 != 0","value":0},"value":1},"labelFontSize":25,"labelColor":"#222","labelPadding":3,"labelOverlap":false,"labelFlush":false,"titleFontSize":26,"titleFontWeight":"normal","titleColor":"#222","titlePadding":8}},
"color":{"field":"g","type":"nominal","scale":{"domain":["Low ADRA1D","High ADRA1D"],"range":["#1414ff","#ff1a1a"]},
"legend":{"title":null,"orient":"none","legendX":151,"legendY":11,"clipHeight":22,"symbolType":"M-1,0H1M0,-0.45V0.25","symbolSize":1225,"symbolStrokeWidth":3,"labelFontSize":22,"labelOffset":19,"rowPadding":4,"labelColor":"#222","labelLimit":0}}
}},
{"data":{"name":"cens"},"transform":[{"filter":"datum.p == 'E'"}],
"mark":{"type":"tick","orient":"vertical","size":11,"thickness":2,"opacity":1},
"encoding":{"x":{"field":"t","type":"quantitative"},"y":{"field":"s","type":"quantitative"},"color":{"field":"g","type":"nominal"}}},
{"data":{"values":[{}]},"mark":{"type":"text","text":"HR=0.602(0.437-0.828)","align":"left","baseline":"middle","fontSize":23,"color":"#222"},"encoding":{"x":{"datum":1798,"type":"quantitative"},"y":{"datum":75.1,"type":"quantitative"}}},
{"data":{"values":[{}]},"mark":{"type":"text","text":"Log-rank","align":"left","baseline":"middle","fontSize":23,"color":"#222"},"encoding":{"x":{"datum":1798,"type":"quantitative"},"y":{"datum":66.7,"type":"quantitative"}}},
{"data":{"values":[{}]},"mark":{"type":"text","text":"P","align":"left","baseline":"middle","fontSize":23,"fontStyle":"italic","dx":97,"color":"#222"},"encoding":{"x":{"datum":1798,"type":"quantitative"},"y":{"datum":66.7,"type":"quantitative"}}},
{"data":{"values":[{}]},"mark":{"type":"text","text":"=0.002","align":"left","baseline":"middle","fontSize":23,"dx":112,"color":"#222"},"encoding":{"x":{"datum":1798,"type":"quantitative"},"y":{"datum":66.7,"type":"quantitative"}}},
{"data":{"values":[{}]},"mark":{"type":"text","text":"E","align":"center","baseline":"middle","fontSize":38,"color":"#111"},"encoding":{"x":{"datum":-1150,"type":"quantitative"},"y":{"datum":94.8,"type":"quantitative"}}}
]}
]}
]
}
